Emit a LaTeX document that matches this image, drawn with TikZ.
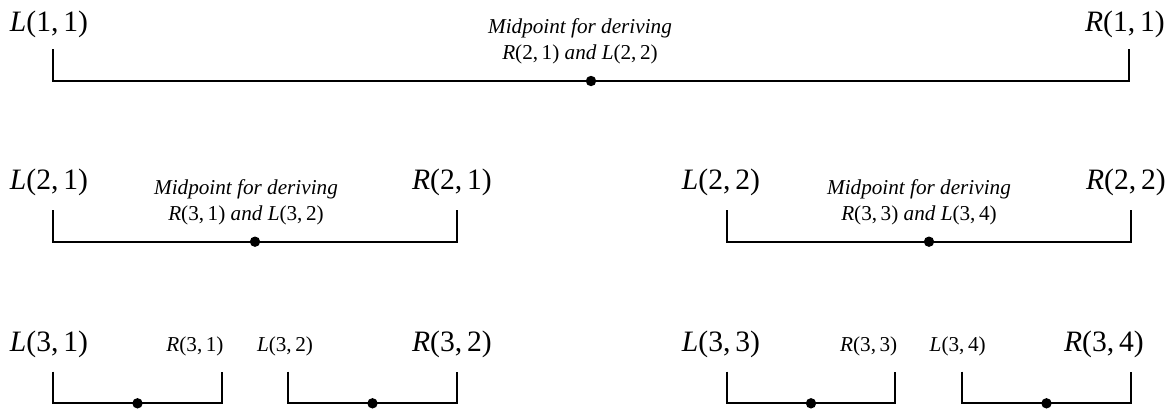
\documentclass[tikz,border=0pt]{standalone}
\usepackage{fontspec}
\setmainfont{Liberation Serif}
\begin{document}
\begin{tikzpicture}[x=0.5pt,y=-0.5pt,
  big/.style={inner sep=0pt,anchor=base,font=\fontsize{14.8pt}{17pt}\selectfont},
  small/.style={inner sep=0pt,anchor=base,font=\fontsize{10.6pt}{13pt}\selectfont},
  midtext/.style={inner sep=0pt,anchor=base,font=\fontsize{10.6pt}{13pt}\selectfont\itshape},
  bracketline/.style={line width=1pt,black},
  middot/.style={circle,fill=black,inner sep=0pt,minimum size=5.2pt}]
\useasboundingbox (0,0) rectangle (1174,414);
\newcommand\bracketseg[4]{% left x, right x, top y, bottom y
  \draw[bracketline] (#1,#3) |- (#2,#4) -- (#2,#3);
  \node[middot] at ({(#1+#2)/2},#4) {};}
% Row 1
\node[big] (L11) at (49,31.7) {\textit{L}(1,\,1)};
\node[big] (R11) at (1125,31.7) {\textit{R}(1,\,1)};
\node[midtext] (m1a) at (580,33) {Midpoint for deriving};
\node[midtext] (m1b) at (580,59) {\textit{R}\upshape(2,\,1) \itshape and \textit{L}\upshape(2,\,2)};
\bracketseg{53}{1129}{49}{81}
% Row 2
\node[big] (L21) at (49,189.3) {\textit{L}(2,\,1)};
\node[big] (R21) at (452,189.3) {\textit{R}(2,\,1)};
\node[midtext] (m2a) at (246,194.5) {Midpoint for deriving};
\node[midtext] (m2b) at (246,220.5) {\textit{R}\upshape(3,\,1) \itshape and \textit{L}\upshape(3,\,2)};
\bracketseg{53}{457}{210}{241.7}
\node[big] (L22) at (721,189.3) {\textit{L}(2,\,2)};
\node[big] (R22) at (1126,189.3) {\textit{R}(2,\,2)};
\node[midtext] (m3a) at (919,194.5) {Midpoint for deriving};
\node[midtext] (m3b) at (919,220.5) {\textit{R}\upshape(3,\,3) \itshape and \textit{L}\upshape(3,\,4)};
\bracketseg{727}{1131}{210}{241.7}
% Row 3
\node[big] (L31) at (49,351) {\textit{L}(3,\,1)};
\node[small] (R31) at (195,351) {\textit{R}(3,\,1)};
\bracketseg{53}{222}{371.7}{403.3}
\node[small] (L32) at (285,351) {\textit{L}(3,\,2)};
\node[big] (R32) at (452,351) {\textit{R}(3,\,2)};
\bracketseg{288}{457}{371.7}{403.3}
\node[big] (L33) at (721,351) {\textit{L}(3,\,3)};
\node[small] (R33) at (868.7,351) {\textit{R}(3,\,3)};
\bracketseg{727}{895}{371.7}{403.3}
\node[small] (L34) at (957.7,351) {\textit{L}(3,\,4)};
\node[big] (R34) at (1104,351) {\textit{R}(3,\,4)};
\bracketseg{962}{1131}{371.7}{403.3}
\end{tikzpicture}
\end{document}
